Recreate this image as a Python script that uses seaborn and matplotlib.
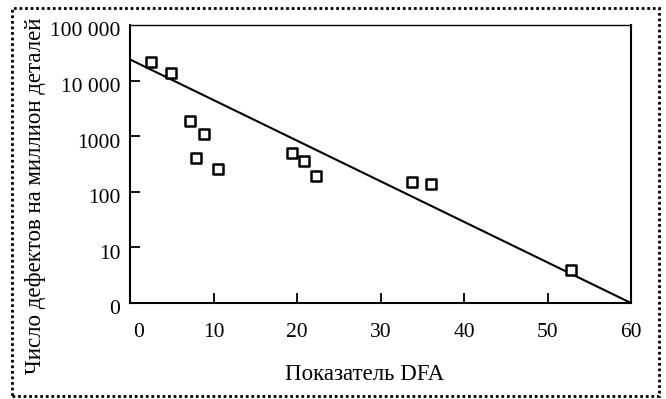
import matplotlib
matplotlib.use("Agg")
import matplotlib.pyplot as plt
from matplotlib.patches import Rectangle
from matplotlib.ticker import FixedLocator, NullLocator
import seaborn as sns
import pandas as pd

# Data
dfa = [2.5, 4.9, 7.2, 8.9, 7.9, 10.5, 19.4, 20.8, 22.3, 33.8, 36.1, 52.8]
defects = [21600, 13900, 1850, 1110, 400, 253, 505, 354, 195, 150, 138, 3.9]
trend_x = [0, 60]
trend_y = [24000, 1]

x_ticks = [10, 20, 30, 40, 50]
x_labels = ["0", "10", "20", "30", "40", "50", "60"]
x_label_pos = [0, 10, 20, 30, 40, 50, 60]
y_ticks = [1, 10, 100, 1000, 10000, 100000]
y_labels = ["0", "10", "100", "1000", "10 000", "100 000"]

sns.set_theme(style="white")
plt.rcParams['font.family'] = ['Liberation Serif', 'DejaVu Serif']

fig = plt.figure(figsize=(6.66, 3.99), dpi=100)
ax = fig.add_axes([130/666, 1-303/399, (631-130)/666, (303-25)/399])

pts = pd.DataFrame({"dfa": dfa, "defects": defects})
line = pd.DataFrame({"x": trend_x, "y": trend_y})

sns.lineplot(data=line, x="x", y="y", ax=ax, color="black", linewidth=1.5, zorder=2)
sns.scatterplot(data=pts, x="dfa", y="defects", ax=ax, marker="s", s=42,
                facecolor="white", edgecolor="black", linewidth=1.8, zorder=3)

ax.set_yscale("log")
ax.set_xlim(0, 60)
ax.set_ylim(1, 100000)

# tick marks (inward) and labels
ax.xaxis.set_major_locator(FixedLocator(x_ticks))
ax.set_xticklabels([])
ax.yaxis.set_major_locator(FixedLocator(y_ticks[1:-1]))
ax.yaxis.set_minor_locator(NullLocator())
ax.set_yticklabels([])
ax.tick_params(axis="both", which="major", direction="in", length=7, width=1.3,
               color="black", bottom=True, left=True)
ax.tick_params(axis="both", which="minor", left=False, bottom=False)

TICK_FS = 15.5
LABEL_FS = 16.5
for xv, lab in zip(x_label_pos, x_labels):
    ax.annotate(lab, xy=(xv, 0), xycoords=("data", "axes fraction"),
                xytext=(6 if xv == 0 else 0, -21), textcoords="offset points",
                ha="center", va="center", fontsize=TICK_FS, color="black")
for yv, lab in zip(y_ticks, y_labels):
    ax.annotate(lab, xy=(0, yv), xycoords=("axes fraction", "data"),
                xytext=(-7, -5), textcoords="offset points",
                ha="right", va="center", fontsize=TICK_FS, color="black")

ax.set_xlabel("")
ax.set_ylabel("")
fig.text(365/666, 1-374/399, "Показатель DFA", ha="center", va="center",
         fontsize=LABEL_FS, color="black")
fig.text(36/666, 1-196/399, "Число дефектов на миллион деталей", ha="center",
         va="center", rotation=90, fontsize=LABEL_FS, color="black")

for side in ["left", "bottom", "right"]:
    ax.spines[side].set_color("black")
    ax.spines[side].set_linewidth(1.5)
ax.spines["top"].set_color("black")
ax.spines["top"].set_linewidth(1.0)

border = Rectangle((12/666, 1-396/399), (659-12)/666, (396-8)/399,
                   transform=fig.transFigure, fill=False, edgecolor="black",
                   linestyle=(0, (1, 1)), linewidth=2)
fig.patches.append(border)

fig.savefig("out.png", dpi=100, facecolor="white")
